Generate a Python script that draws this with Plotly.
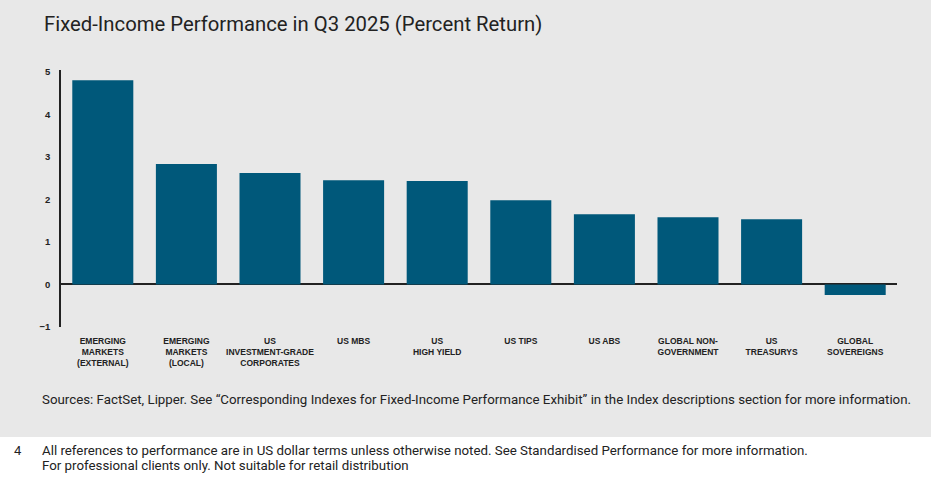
import plotly.graph_objects as go

categories = [
    "EMERGING<br>MARKETS<br>(EXTERNAL)",
    "EMERGING<br>MARKETS<br>(LOCAL)",
    "US<br>INVESTMENT-GRADE<br>CORPORATES",
    "US MBS",
    "US<br>HIGH YIELD",
    "US TIPS",
    "US ABS",
    "GLOBAL NON-<br>GOVERNMENT",
    "US<br>TREASURYS",
    "GLOBAL<br>SOVEREIGNS",
]
values = [4.80, 2.83, 2.62, 2.45, 2.43, 1.98, 1.65, 1.58, 1.53, -0.25]
y_ticks = [-1, 0, 1, 2, 3, 4, 5]

title_text = "Fixed-Income Performance in Q3 2025 (Percent Return)"
sources_text = ("Sources: FactSet, Lipper. See \u201cCorresponding Indexes for Fixed-Income "
                "Performance Exhibit\u201d in the Index descriptions section for more information.")
footer_num = "4"
footer_lines = [
    "All references to performance are in US dollar terms unless otherwise noted. See Standardised Performance for more information.",
    "For professional clients only. Not suitable for retail distribution",
]

BAR = "#00587a"
GREY = "#e8e8e8"
INK = "#222222"

W, H = 931, 481
ML, MR, MT, MB = 61, 34, 70, 154
PW, PH = W - ML - MR, H - MT - MB


def px_x(x):
    return (x - ML) / PW


def px_y(y):
    return (H - MB - y) / PH


fig = go.Figure(go.Bar(x=categories, y=values, marker_color=BAR, marker_line_width=0))

fig.update_layout(
    width=W, height=H,
    margin=dict(l=ML, r=MR, t=MT, b=MB),
    paper_bgcolor=GREY,
    plot_bgcolor="rgba(0,0,0,0)",
    bargap=0.27,
    showlegend=False,
    font=dict(family="Roboto, Liberation Sans, sans-serif", color=INK),
)

fig.update_yaxes(
    range=[-1, 5.04],
    tickvals=y_ticks,
    showgrid=False,
    showline=True, linecolor=INK, linewidth=1.5,
    zeroline=True, zerolinecolor=INK, zerolinewidth=1.5,
    ticks="", ticklabelstandoff=7,
    tickfont=dict(size=9.5, color=INK, family="Liberation Sans, Arial, sans-serif", weight="bold"),
)
fig.update_xaxes(
    showgrid=False, showline=False, zeroline=False,
    ticks="outside", ticklen=6, tickcolor="rgba(0,0,0,0)",
    tickfont=dict(size=8.5, color=INK, family="Liberation Sans, Arial, sans-serif", weight="bold"),
)

# white lower band
fig.add_shape(type="rect", xref="paper", yref="paper",
              x0=px_x(-5), x1=px_x(W + 5), y0=px_y(H + 5), y1=px_y(437),
              fillcolor="white", line_width=0, layer="below")

fig.add_annotation(text=title_text, xref="paper", yref="paper",
                   x=px_x(42), y=px_y(24), xanchor="left", yanchor="middle",
                   showarrow=False, font=dict(size=20.3, color=INK))
fig.add_annotation(text=sources_text, xref="paper", yref="paper",
                   x=px_x(40), y=px_y(399), xanchor="left", yanchor="middle",
                   showarrow=False, font=dict(size=13.3, color=INK))
fig.add_annotation(text=footer_num, xref="paper", yref="paper",
                   x=px_x(12), y=px_y(450), xanchor="left", yanchor="middle",
                   showarrow=False, font=dict(size=13, color=INK))
for i, line in enumerate(footer_lines):
    fig.add_annotation(text=line, xref="paper", yref="paper",
                       x=px_x(40), y=px_y(450 + 16 * i), xanchor="left", yanchor="middle",
                       showarrow=False, font=dict(size=13.3, color=INK))

fig.write_html("out.html", config={"displayModeBar": False},
               post_script="document.body.style.margin='0';")
